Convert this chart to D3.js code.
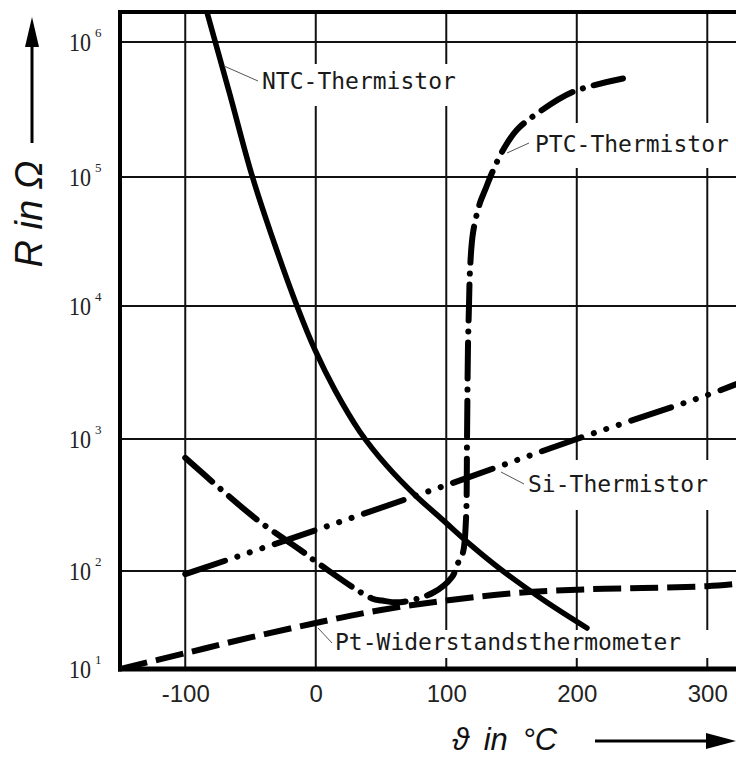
<!DOCTYPE html>
<html>
<head>
<meta charset="utf-8">
<script src="https://cdn.jsdelivr.net/npm/d3@7"></script>
<style>
  body { margin: 0; background: #fff; }
  svg { display: block; }
</style>
</head>
<body>
<svg></svg>
<script>
// ====== Données ====== //

const xTicks = [-100, 0, 100, 200, 300];
const yDecades = [1, 2, 3, 4, 5, 6]; // 10^1 ... 10^6 Ohm

// NTC-Thermistor (trait plein)
const ntcT = [-83.4, -65.7, -48.9, -31.3, -14.4, -0.6, 14.7, 33.9, 54.6, 76.0, 97.5, 118.9, 141.1, 175.6, 207.8];
const ntcR = [1.67e6, 4.05e5, 1.03e5, 2.97e4, 1.0e4, 4670, 2330, 1130, 624, 377, 243, 157, 104, 49.4, 26.2];

// PTC-Thermistor (trait-point)
const ptcT = [-100, -45, -12.1, 3.2, 43, 50.7, 64.5, 89.8, 104.4, 109, 112.8, 115.1, 115.9, 116.6, 117.4, 118.2, 120.5, 125.8, 129.7, 135, 143.4, 154.2, 169.5, 197, 235.4];
const ptcR = [720, 245, 145, 112, 52.5, 50, 48, 60, 87, 115, 138, 245, 1000, 4700, 1e4, 1.9e4, 3.7e4, 6.3e4, 7.9e4, 1.07e5, 1.58e5, 2.24e5, 2.95e5, 4.27e5, 5.37e5];

// Si-Thermistor (trait-point-point-point)
const siT = [-100, 0, 100, 200, 300, 323];
const siR = [93, 204, 447, 1000, 2140, 2600];

// Pt-Widerstandsthermometer (tirets)
const ptT = [-150, -100, -50, 0, 50, 100, 150, 200, 250, 300, 323];
const ptR = [10, 14.5, 21, 29.5, 40, 50, 59, 64.5, 67, 70, 74];

const curveNames = ["NTC-Thermistor", "PTC-Thermistor", "Si-Thermistor", "Pt-Widerstandsthermometer"];

// ====== Mise en page ====== //
const width = 736;
const height = 758;
const plot = { left: 120, top: 12, right: 736, bottom: 669 };

const svg = d3.select('svg')
    .attr('width', width)
    .attr('height', height);

// axe x linéaire
const x = d3.scaleLinear()
    .domain([-150, 322])
    .range([plot.left, plot.right]);

// axe y : log10(R), décades pas tout à fait régulières sur l'original
const y = d3.scaleLinear()
    .domain(yDecades)
    .range([669, 571, 439, 306, 177, 42]);

const yR = r => y(Math.log10(r));

// clip de la zone du graphique
svg.append("defs").append("clipPath")
    .attr("id", "clip")
    .append("rect")
    .attr("x", plot.left)
    .attr("y", plot.top)
    .attr("width", plot.right - plot.left)
    .attr("height", plot.bottom - plot.top);

// grille
const grid = svg.append("g").attr("stroke", "#111").attr("stroke-width", 2);
grid.selectAll(".vx")
    .data(xTicks)
    .enter().append("line")
    .attr("x1", d => x(d)).attr("x2", d => x(d))
    .attr("y1", plot.top).attr("y2", plot.bottom);
grid.selectAll(".hy")
    .data(yDecades.slice(1))
    .enter().append("line")
    .attr("x1", plot.left).attr("x2", plot.right)
    .attr("y1", d => y(d)).attr("y2", d => y(d));

// étiquettes des courbes (fond blanc qui coupe la grille)
const labelLayout = [
    { tx: 262, ty: 89,  box: [256, 64, 462, 106],  lead: [224, 66, 258, 81] },
    { tx: 535, ty: 152, box: [530, 123, 740, 168], lead: [507, 153, 529, 143] },
    { tx: 528, ty: 492, box: [523, 460, 740, 510], lead: [501, 472, 524, 484] },
    { tx: 335, ty: 650, box: [330, 630, 712, 658], lead: [318, 628, 332, 643] }
];
const labels = curveNames.map((name, i) => Object.assign({ name }, labelLayout[i]));

svg.append("g").selectAll("rect")
    .data(labels)
    .enter().append("rect")
    .attr("x", d => d.box[0]).attr("y", d => d.box[1])
    .attr("width", d => d.box[2] - d.box[0])
    .attr("height", d => d.box[3] - d.box[1])
    .attr("fill", "#fff");

// courbes
const line = d3.line()
    .x(d => x(d.t))
    .y(d => yR(d.r))
    .curve(d3.curveCatmullRom.alpha(0.5));

const zip = (ts, rs) => ts.map((t, i) => ({ t, r: rs[i] }));

const series = [
    { pts: zip(ntcT, ntcR), dash: null, w: 5.5, cap: "round" },
    { pts: zip(ptcT, ptcR), dash: "36,11,0.1,11", w: 6, cap: "round" },
    { pts: zip(siT, siR), dash: "42,13,0.1,13,0.1,13,0.1,13", w: 6, cap: "round" },
    { pts: zip(ptT, ptR), dash: "28,9", w: 6, cap: "butt" }
];

svg.append("g")
    .attr("clip-path", "url(#clip)")
    .selectAll("path")
    .data(series)
    .enter().append("path")
    .attr("d", d => line(d.pts))
    .attr("fill", "none")
    .attr("stroke", "#000")
    .attr("stroke-width", d => d.w)
    .attr("stroke-linecap", d => d.cap)
    .attr("stroke-linejoin", "round")
    .attr("stroke-dasharray", d => d.dash);

// cadre : gauche, haut, bas
const frame = svg.append("g").attr("stroke", "#000");
frame.append("line").attr("x1", plot.left).attr("x2", plot.left)
    .attr("y1", plot.top - 2).attr("y2", plot.bottom + 2.5).attr("stroke-width", 4);
frame.append("line").attr("x1", plot.left).attr("x2", plot.right)
    .attr("y1", plot.top).attr("y2", plot.top).attr("stroke-width", 4);
frame.append("line").attr("x1", plot.left - 2).attr("x2", plot.right)
    .attr("y1", plot.bottom).attr("y2", plot.bottom).attr("stroke-width", 5);

// textes et traits de renvoi
svg.append("g").selectAll("line")
    .data(labels)
    .enter().append("line")
    .attr("x1", d => d.lead[0]).attr("y1", d => d.lead[1])
    .attr("x2", d => d.lead[2]).attr("y2", d => d.lead[3])
    .attr("stroke", "#555").attr("stroke-width", 1);

svg.append("g").selectAll("text")
    .data(labels)
    .enter().append("text")
    .attr("x", d => d.tx).attr("y", d => d.ty)
    .attr("font-family", "'DejaVu Sans Mono', monospace")
    .attr("font-size", 23)
    .attr("fill", "#1a1a1a")
    .text(d => d.name);

// graduations x
const xAxis = svg.append("g")
    .attr("transform", `translate(0,${plot.bottom})`)
    .call(d3.axisBottom(x).tickValues(xTicks).tickSize(0).tickPadding(16).tickFormat(d => String(d)));
xAxis.select(".domain").remove();
xAxis.selectAll("text")
    .attr("font-family", "'Liberation Sans', Arial, sans-serif")
    .attr("font-size", 24)
    .attr("fill", "#222");

// graduations y : 10 + exposant
const yLab = svg.append("g").attr("fill", "#222").attr("font-family", "'Liberation Serif', 'Times New Roman', serif");
yLab.selectAll(".base")
    .data(yDecades)
    .enter().append("text")
    .attr("x", 69).attr("y", d => y(d) + 9)
    .attr("font-size", 26)
    .attr("textLength", 22)
    .attr("lengthAdjust", "spacingAndGlyphs")
    .text("10");
yLab.selectAll(".exp")
    .data(yDecades)
    .enter().append("text")
    .attr("x", 95).attr("y", d => y(d) - 5)
    .attr("font-size", 13)
    .text(d => d);

// titre des axes avec flèches
svg.append("text")
    .attr("transform", "translate(42,214) rotate(-90)")
    .attr("text-anchor", "middle")
    .attr("font-family", "'Liberation Sans', Arial, sans-serif")
    .attr("font-style", "italic")
    .attr("font-size", 38)
    .attr("fill", "#111")
    .text("R in Ω");

svg.append("line").attr("x1", 32).attr("x2", 32).attr("y1", 143).attr("y2", 40)
    .attr("stroke", "#000").attr("stroke-width", 3);
svg.append("path").attr("d", "M32,17 L25,47 L39,47 Z").attr("fill", "#000");

svg.append("text")
    .attr("x", 452).attr("y", 750)
    .attr("font-family", "'Liberation Sans', Arial, sans-serif")
    .attr("font-style", "italic")
    .attr("font-size", 31)
    .attr("word-spacing", 6)
    .attr("fill", "#111")
    .text("ϑ in °C");

svg.append("line").attr("x1", 595).attr("x2", 712).attr("y1", 741).attr("y2", 741)
    .attr("stroke", "#000").attr("stroke-width", 3);
svg.append("path").attr("d", "M736,741 L706,733 L706,749 Z").attr("fill", "#000");
</script>
</body>
</html>
